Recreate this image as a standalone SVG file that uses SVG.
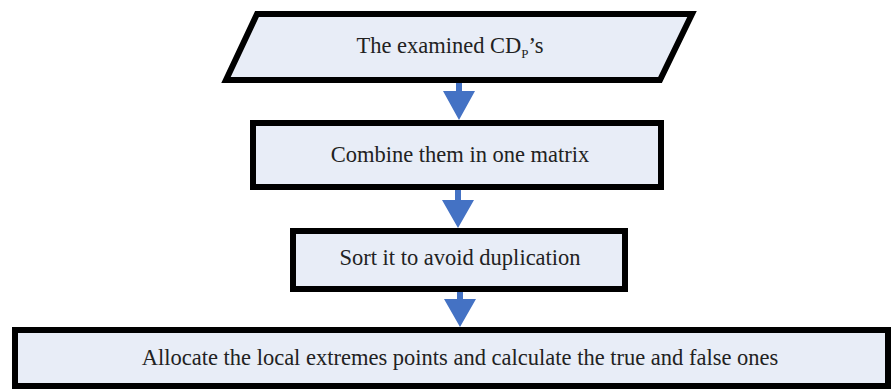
<svg xmlns="http://www.w3.org/2000/svg" width="893" height="391" viewBox="0 0 893 391">
<style>
.n{fill:#E8EDF7;stroke:#000;stroke-width:6;stroke-linejoin:miter}
.t{font-family:"Liberation Serif","Times New Roman",serif;font-size:22.5px;fill:#222;text-anchor:middle}
.a{fill:#4472C4}
</style>
<rect width="893" height="391" fill="#fff"/>
<g id="connectors">
<polygon class="a" points="456,82 462,82 462,91 475,91 459,120 443,91 456,91"/>
<polygon class="a" points="455,190 461,190 461,200 474,200 458,228 442,200 455,200"/>
<polygon class="a" points="457,292 463,292 463,299 476,299 460,327 444,299 457,299"/>
</g>
<g id="node1">
<polygon class="n" points="257,14 692,14 660,80 226,80"/>
<text class="t" x="450" y="53">The examined CD<tspan font-size="13" dy="5">P</tspan><tspan dy="-5">’s</tspan></text>
</g>
<g id="node2">
<rect class="n" x="253" y="123" width="408" height="64"/>
<text class="t" x="460" y="162">Combine them in one matrix</text>
</g>
<g id="node3">
<rect class="n" x="293" y="231" width="332" height="58"/>
<text class="t" x="460" y="265">Sort it to avoid duplication</text>
</g>
<g id="node4">
<rect class="n" x="15" y="330" width="873" height="56"/>
<text class="t" x="460" y="365">Allocate the local extremes points and calculate the true and false ones</text>
</g>
</svg>
